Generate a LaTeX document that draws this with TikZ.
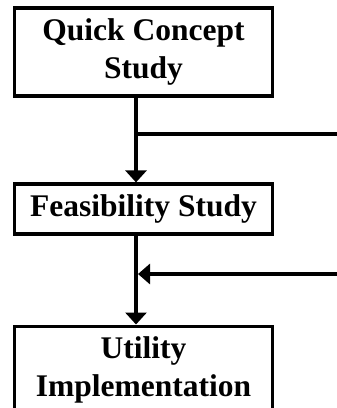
\documentclass[tikz,border=0pt]{standalone}
\usepackage{fontspec}
\setmainfont{Liberation Serif}
\usetikzlibrary{arrows.meta,positioning}

\tikzset{
  stage/.style={draw, line width=3.2pt, rectangle, minimum width=258pt, align=center,
    inner sep=0pt, font=\bfseries\fontsize{31.5}{38}\selectfont},
  flow/.style={line width=4.5pt, -{Triangle[width=21pt,length=12pt]}},
  feed/.style={line width=4pt}
}

\begin{document}
\begin{tikzpicture}[x=1pt, y=1pt]
\useasboundingbox (0,0) rectangle (337,-408);
\coordinate (spine) at (136,0);
\node[stage, minimum height=88pt] (quick) at (143.5,-52) {Quick Concept\\Study};
\node[stage, minimum height=50pt] (feas) at (143.5,-209) {Feasibility Study};
\node[stage, minimum height=88pt, anchor=north] (util) at (143.5,-324.5) {Utility\\Implementation};

\coordinate (out1) at (337,-134);
\coordinate (in2) at (337,-274);

\draw[flow] (quick.south -| spine) -- (feas.north -| spine);
\draw[flow] (feas.south -| spine) -- (util.north -| spine);
\draw[feed] (spine |- out1) -- (out1);
\draw[feed, -{Triangle[width=20pt,length=12pt]}] (in2) -- ([xshift=2pt]spine |- in2);
\end{tikzpicture}
\end{document}
